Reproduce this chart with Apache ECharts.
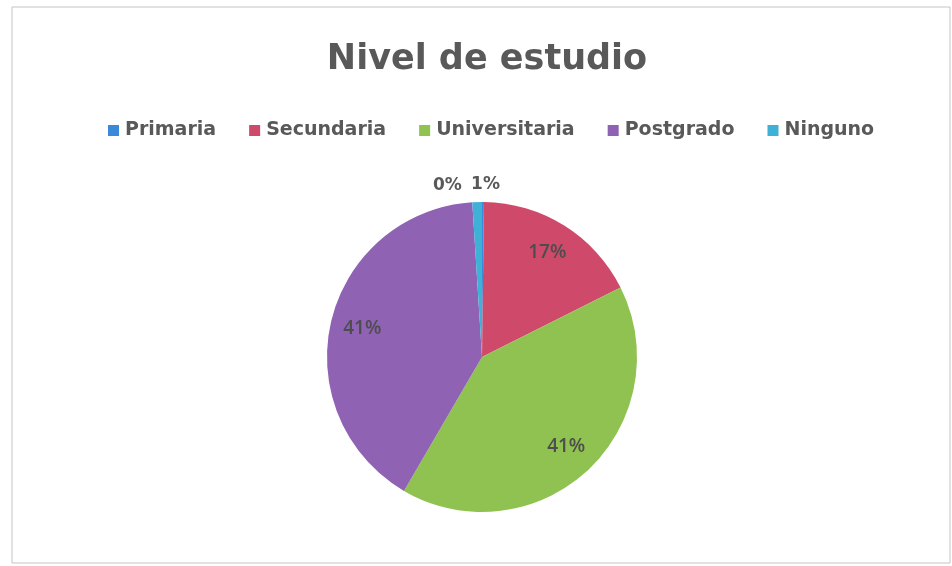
<!DOCTYPE html>
<html>
<head>
<meta charset="utf-8">
<script src="https://cdn.jsdelivr.net/npm/echarts@6/dist/echarts.min.js"></script>
<style>
html,body{margin:0;padding:0;background:#fff;}
#chart{width:952px;height:566px;}
</style>
</head>
<body>
<div id="chart"></div>
<script>
const titleText = 'Nivel de estudio';
const categories = ['Primaria', 'Secundaria', 'Universitaria', 'Postgrado', 'Ninguno'];
const values = [0.2, 17.4, 40.8, 40.6, 1.0];
const colors = ['#3b8ad9', '#cf4a6a', '#8fc251', '#8f62b3', '#3fb0d6'];
const outsideLabelled = ['Primaria', 'Ninguno'];

const total = values.reduce((a, b) => a + b, 0);
const pct = v => Math.round(v / total * 100) + '%';

const outsideOffsets = { 'Primaria': [-55, -10], 'Ninguno': [28, -12] };

const mainData = categories.map((c, i) => {
  const isOut = outsideLabelled.includes(c);
  return {
    name: c, value: values[i],
    itemStyle: { color: colors[i] },
    label: isOut ? { show: true, position: 'outside', offset: outsideOffsets[c] } : { show: false }
  };
});
const overlayData = categories.map((c, i) => ({
  name: c, value: values[i],
  label: { show: !outsideLabelled.includes(c) }
}));

const chart = echarts.init(document.getElementById('chart'), null, { renderer: 'canvas' });
chart.setOption({
  animation: false,
  backgroundColor: '#ffffff',
  title: {
    text: titleText, left: 482, textAlign: 'center', top: 37,
    textStyle: { fontFamily: 'DejaVu Sans', fontWeight: 'bold', fontSize: 35, color: '#595959' }
  },
  legend: {
    data: categories, top: 116, left: 103,
    itemWidth: 11, itemHeight: 11, itemGap: 33, icon: 'rect',
    textStyle: { fontFamily: 'DejaVu Sans', fontSize: 19, fontWeight: 'bold', color: '#595959', padding: [0, 0, 0, 1] }
  },
  graphic: [{
    type: 'rect', silent: true,
    shape: { x: 12, y: 7, width: 938, height: 556 },
    style: { fill: null, stroke: '#c4c4c4', lineWidth: 1 }
  }],
  series: [{
    type: 'pie', center: [482, 357], radius: 155,
    startAngle: 90, clockwise: true,
    avoidLabelOverlap: false, silent: true,
    data: mainData,
    label: {
      formatter: p => pct(p.value),
      fontFamily: 'DejaVu Sans', fontSize: 17, fontWeight: 'bold', color: '#595959'
    },
    labelLine: { show: false, length: 6, length2: 0 },
    itemStyle: { borderWidth: 0 }
  }, {
    type: 'pie', center: [482, 357], radius: [85, 155],
    startAngle: 90, clockwise: true,
    avoidLabelOverlap: false, silent: true,
    data: overlayData,
    itemStyle: { color: 'rgba(0,0,0,0)', borderWidth: 0 },
    label: {
      show: true,
      position: 'inside',
      formatter: p => pct(p.value),
      fontFamily: 'Open Sans', fontSize: 19, fontWeight: 600, color: '#4d4d4d'
    },
    labelLine: { show: false }
  }]
});
</script>
</body>
</html>
